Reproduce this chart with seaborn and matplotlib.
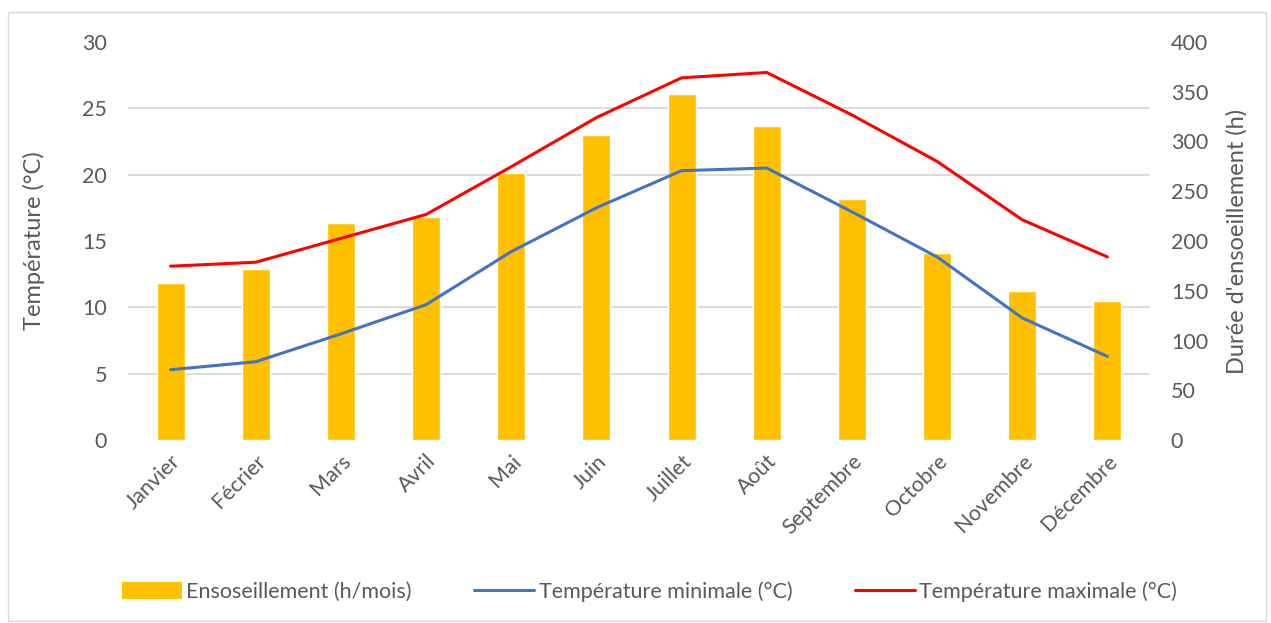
import matplotlib
matplotlib.use("Agg")
import matplotlib.pyplot as plt
import matplotlib.ticker as mticker
from matplotlib.lines import Line2D
from matplotlib.patches import Patch, Rectangle
import numpy as np
import pandas as pd
import seaborn as sns

MONTHS = ["Janvier", "Fécrier", "Mars", "Avril", "Mai", "Juin", "Juillet",
          "Août", "Septembre", "Octobre", "Novembre", "Décembre"]
SUNSHINE_H = [158, 172, 218, 224, 268, 307, 348, 316, 242, 188, 150, 140]
TEMP_MIN = [5.3, 5.9, 8.0, 10.2, 14.2, 17.5, 20.3, 20.5, 17.2, 13.8, 9.2, 6.3]
TEMP_MAX = [13.1, 13.4, 15.2, 17.0, 20.6, 24.3, 27.3, 27.7, 24.5, 21.0, 16.6, 13.8]

LBL_SUN = "Ensoseillement (h/mois)"
LBL_MIN = "Température minimale (°C)"
LBL_MAX = "Température maximale (°C)"

C_SUN = "#FFC000"
C_MIN = "#4472C4"
C_MAX = "#FF0000"
TXT = "#595959"
GRID = "#D9D9D9"

sns.set_theme(style="white")
plt.rcParams["font.family"] = ["Lato", "DejaVu Sans"]

df = pd.DataFrame({"mois": MONTHS, "soleil": SUNSHINE_H, "tmin": TEMP_MIN, "tmax": TEMP_MAX})

fig = plt.figure(figsize=(12.71, 6.23), dpi=100)
ax = fig.add_axes([0.1007, 0.2937, 0.8041, 0.6389])
ax_sun = ax.twinx()

# bars behind, lines in front
ax_sun.set_zorder(1)
ax.set_zorder(2)
ax.patch.set_visible(False)

sns.barplot(data=df, x="mois", y="soleil", color=C_SUN, saturation=1,
            width=0.33, ax=ax_sun, zorder=2)
sns.lineplot(data=df, x="mois", y="tmin", color=C_MIN, lw=2.2, ax=ax, sort=False)
sns.lineplot(data=df, x="mois", y="tmax", color=C_MAX, lw=2.2, ax=ax, sort=False)

ax.set_xlim(-0.5, len(MONTHS) - 0.5)
ax.set_ylim(0, 30)
ax_sun.set_ylim(0, 400)
ax.yaxis.set_major_locator(mticker.MultipleLocator(5))
ax_sun.yaxis.set_major_locator(mticker.MultipleLocator(50))

# horizontal grid follows the temperature ticks, drawn under the bars
ax_sun.yaxis.set_minor_locator(mticker.FixedLocator(np.linspace(0, 400, 7)))
ax_sun.grid(False)
ax.grid(False)
ax_sun.grid(which="minor", axis="y", color=GRID, lw=1.3, zorder=0)
ax_sun.set_axisbelow(True)

for a in (ax, ax_sun):
    for s in a.spines.values():
        s.set_visible(False)
    a.tick_params(length=0, colors=TXT, labelsize=15.5)

ax.tick_params(axis="y", pad=15)
ax_sun.tick_params(axis="y", which="both", pad=15, length=0)
ax.tick_params(axis="x", pad=8)
plt.setp(ax.get_xticklabels(), rotation=45, ha="right", rotation_mode="anchor")
ax_sun.set_xlabel("")
ax.set_xlabel("")

ax.set_ylabel("Température (°C)", color=TXT, fontsize=17)
ax.yaxis.set_label_coords(-0.081, 0.5)
ax_sun.set_ylabel("Durée d'ensoeillement (h)", color=TXT, fontsize=17)
ax_sun.yaxis.set_label_coords(1.074, 0.5)

handles = [
    Patch(facecolor=C_SUN, edgecolor="none"),
    Line2D([], [], color=C_MIN, lw=2.2),
    Line2D([], [], color=C_MAX, lw=2.2),
]
fig.legend(handles, [LBL_SUN, LBL_MIN, LBL_MAX], loc="center",
           bbox_to_anchor=(0.511, 0.05), ncol=3, frameon=False,
           fontsize=15.5, labelcolor=TXT, handlelength=2.8,
           handleheight=0.8, handletextpad=0.2, columnspacing=2.9)

fig.patches.append(Rectangle((0.006, 0.004), 0.99, 0.976, transform=fig.transFigure,
                             fill=False, edgecolor=GRID, lw=1.0))

fig.savefig("out.png", dpi=100)
